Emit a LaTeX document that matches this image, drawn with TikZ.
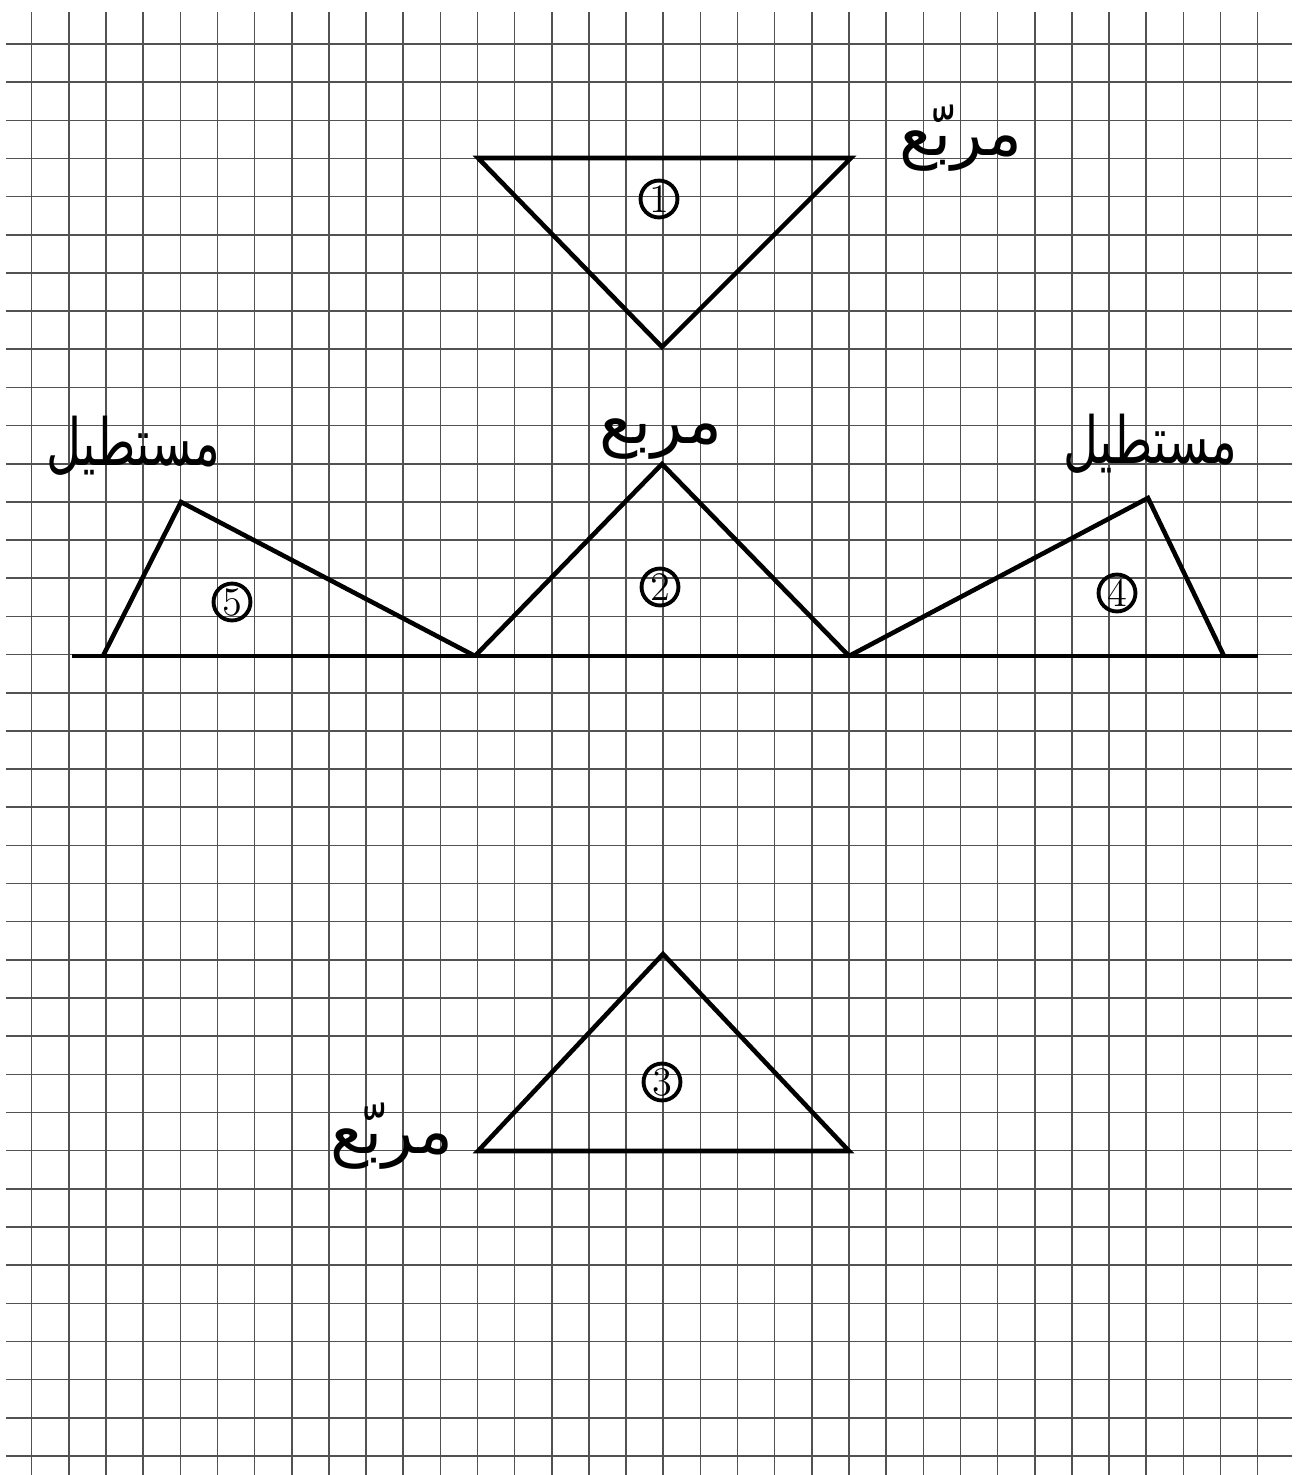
\documentclass[tikz,border=0pt]{standalone}
\usepackage{fontspec}
\newfontfamily\arabicfont[Script=Arabic]{DejaVu Sans}
\newfontfamily\arabicnarrow[Script=Arabic,FakeStretch=0.74]{DejaVu Sans}
\TeXXeTstate=1
\begin{document}
\begin{tikzpicture}[x=0.01cm,y=-0.01cm,
  gridline/.style={draw=black!68, line width=0.45pt},
  shapeline/.style={draw=black, line width=1.3pt, line join=miter},
  arlabel/.style={font=\arabicfont\fontsize{18.5}{22}\selectfont, anchor=base, inner sep=0pt},
  arwide/.style={font=\arabicnarrow\fontsize{18.5}{22}\selectfont, anchor=base, inner sep=0pt},
  numcirc/.style={draw=black, circle, line width=1.1pt, minimum size=10.5pt, inner sep=0pt, font=\fontsize{11.5}{11.5}\selectfont}]
\useasboundingbox (0,0) rectangle (1301,1475);
\fill[white] (0,0) rectangle (1301,1475);
% grid paper
\foreach \k in {0,...,33} \draw[gridline] ({31.7+37.15*\k},12) -- ({31.7+37.15*\k},1475);
\foreach \k in {0,...,37} \draw[gridline] (6,{44+38.16*\k}) -- (1292,{44+38.16*\k});
% vertices
\coordinate (a1) at (478,158); \coordinate (b1) at (851,158); \coordinate (c1) at (662,347);
\coordinate (l0) at (72,656);  \coordinate (r0) at (1258,656);
\coordinate (a5) at (103,656); \coordinate (b5) at (181,502); \coordinate (c5) at (475,656);
\coordinate (b2) at (662,464); \coordinate (c2) at (849,656);
\coordinate (b4) at (1148,498); \coordinate (c4) at (1224,656);
\coordinate (a3) at (478,1151); \coordinate (b3) at (663,954); \coordinate (c3) at (849,1151);
% shapes
\draw[shapeline] (a1) -- (b1) -- (c1) -- cycle;
\draw[shapeline] (l0) -- (r0);
\draw[shapeline] (a5) -- (b5) -- (c5);
\draw[shapeline] (c5) -- (b2) -- (c2);
\draw[shapeline] (c2) -- (b4) -- (c4);
\draw[shapeline] (a3) -- (b3) -- (c3) -- cycle;
% numbers
\node[numcirc] (n1) at (659,199) {1};
\node[numcirc] (n2) at (660,587) {2};
\node[numcirc] (n3) at (662,1082) {3};
\node[numcirc] (n4) at (1117,593) {4};
\node[numcirc] (n5) at (232,602) {5};
% labels
\node[arlabel] (t1) at (961,155) {\beginR مربّع\endR};
\node[arlabel] (t2) at (661,443) {\beginR مربع\endR};
\node[arlabel] (t3) at (392,1153) {\beginR مربّع\endR};
\node[arwide] (t5) at (133,465) {\beginR مستطيل\endR};
\node[arwide] (t4) at (1150,463) {\beginR مستطيل\endR};
\end{tikzpicture}
\end{document}
